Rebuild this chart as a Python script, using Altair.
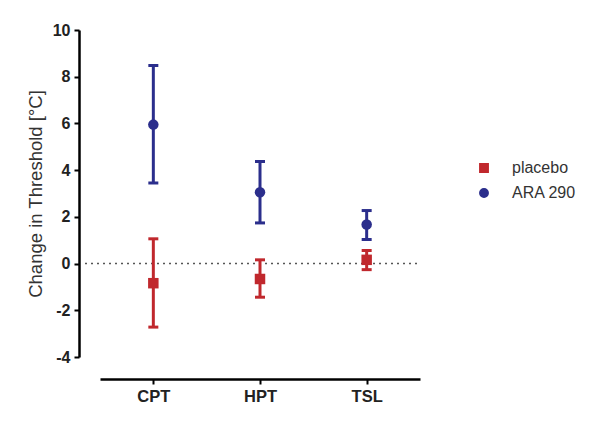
import altair as alt
import pandas as pd

categories = ["CPT", "HPT", "TSL"]
groups = ["placebo", "ARA 290"]
placebo_mean = [-0.84, -0.66, 0.16]
placebo_low = [-2.72, -1.44, -0.26]
placebo_high = [1.06, 0.16, 0.56]
ara_mean = [5.95, 3.05, 1.67]
ara_low = [3.45, 1.74, 1.03]
ara_high = [8.48, 4.37, 2.27]
y_ticks = [-4, -2, 0, 2, 4, 6, 8, 10]

rows = []
for i, c in enumerate(categories):
    rows.append({"cat": c, "group": "placebo", "mean": placebo_mean[i], "low": placebo_low[i], "high": placebo_high[i]})
    rows.append({"cat": c, "group": "ARA 290", "mean": ara_mean[i], "low": ara_low[i], "high": ara_high[i]})
df = pd.DataFrame(rows)

FONT = "Liberation Sans"
color_scale = alt.Scale(domain=groups, range=["#c0282d", "#2b2e8c"])
shape_scale = alt.Scale(domain=groups, range=["square", "circle"])
legend = alt.Legend(title=None, orient="none", legendX=376, legendY=130,
                    labelFont=FONT, labelFontSize=16, labelColor="#333",
                    symbolSize=70, symbolOpacity=1, labelOffset=20, rowPadding=9, padding=0)
color_enc = alt.Color("group:N", scale=color_scale, sort=groups, legend=legend)
shape_enc = alt.Shape("group:N", scale=shape_scale, sort=groups, legend=legend)

x_scale = alt.Scale(type="point", padding=0.5)
x_enc = alt.X("cat:N", sort=categories, scale=x_scale,
              axis=alt.Axis(title=None, offset=22, domainColor="black", domainWidth=2.5,
                            tickColor="black", tickWidth=2, tickSize=5, labelAngle=0,
                            labelFont=FONT, labelFontSize=16.5, labelFontWeight="bold",
                            labelColor="#222", labelPadding=4, grid=False))
y_scale = alt.Scale(domain=[-4, 10], nice=False)

base = alt.Chart(df)

zero = alt.Chart(pd.DataFrame({"v": [0]})).mark_rule(
    color="#555", strokeDash=[2, 4], strokeWidth=1.5
).encode(y=alt.Y("v:Q", scale=y_scale), x=alt.value(-15), x2=alt.value(320))

bars = base.mark_rule(strokeWidth=3, opacity=1).encode(
    x=x_enc,
    y=alt.Y("low:Q", scale=y_scale,
            axis=alt.Axis(title="Change in Threshold [°C]", values=y_ticks, offset=21,
                          labelExpr="replace(format(datum.value, 'd'), '−', '-')",
                          domainColor="black", domainWidth=2.5, tickColor="black",
                          tickWidth=2, tickSize=5, labelFont=FONT, labelFontSize=16,
                          labelFontWeight="bold", labelColor="#222", labelPadding=4,
                          titleFont=FONT, titleFontSize=18.5, titleFontWeight="normal",
                          titleColor="#333", titlePadding=7, grid=False)),
    y2="high:Q",
    color=color_enc,
)

caps_hi = base.mark_tick(orient="horizontal", size=10, thickness=3, opacity=1).encode(
    x=alt.X("cat:N", sort=categories, scale=x_scale),
    y=alt.Y("high:Q", scale=y_scale),
    color=color_enc,
)
caps_lo = base.mark_tick(orient="horizontal", size=10, thickness=3, opacity=1).encode(
    x=alt.X("cat:N", sort=categories, scale=x_scale),
    y=alt.Y("low:Q", scale=y_scale),
    color=color_enc,
)

points = base.mark_point(filled=True, size=110, opacity=1).encode(
    x=alt.X("cat:N", sort=categories, scale=x_scale),
    y=alt.Y("mean:Q", scale=y_scale),
    color=color_enc,
    shape=shape_enc,
)

chart = alt.layer(zero, bars, caps_hi, caps_lo, points).properties(
    width=320, height=327,
    background="white",
    autosize=alt.AutoSizeParams(type="none"),
    padding={"left": 92, "top": 22, "right": 170, "bottom": 55},
).configure_view(stroke=None)

chart.save("out.html", embed_options={"renderer": "svg", "actions": False})
